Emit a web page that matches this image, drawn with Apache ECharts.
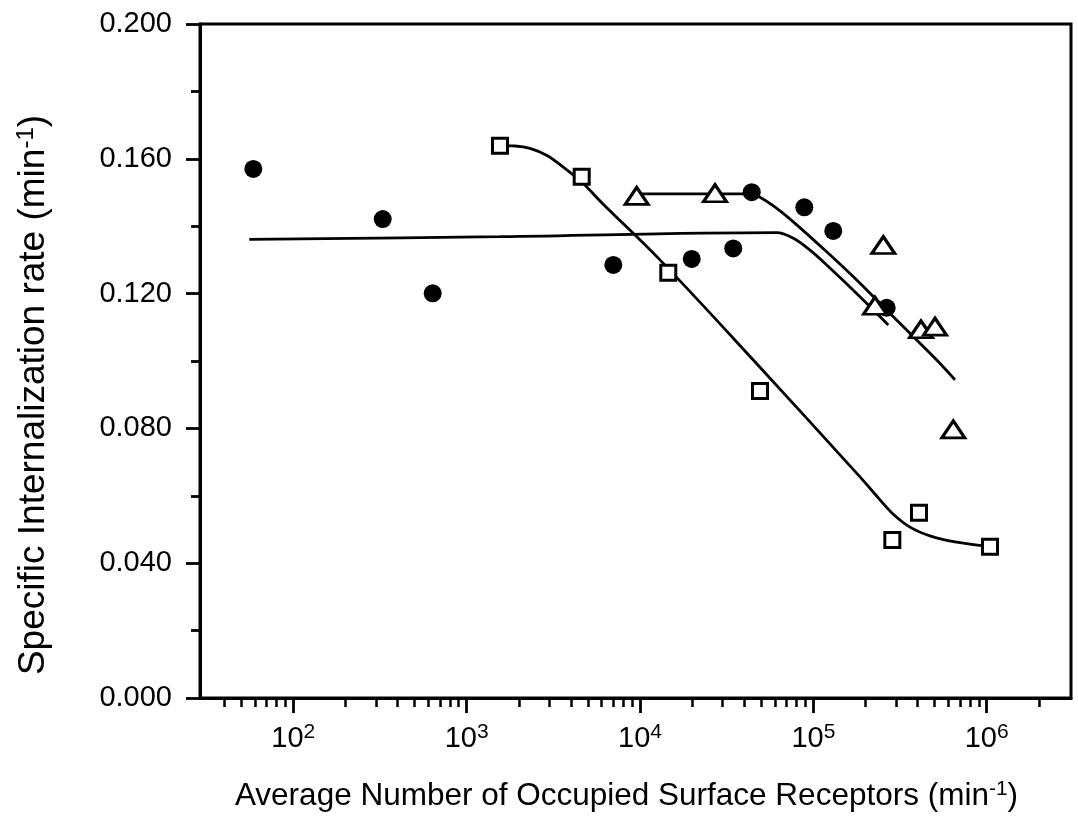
<!DOCTYPE html>
<html>
<head>
<meta charset="utf-8">
<script src="https://cdn.jsdelivr.net/npm/echarts@6/dist/echarts.min.js"></script>
<style>
html,body{margin:0;padding:0;background:#fff;}
#chart{width:1078px;height:819px;}
</style>
</head>
<body>
<div id="chart"></div>
<script>
// ---- data ----
const circlesX = [58.8, 328, 637, 7015, 19880, 34510, 44100, 88700, 130300, 265000];
const circlesY = [0.1570, 0.1421, 0.1201, 0.1285, 0.1303, 0.1334, 0.1501, 0.1456, 0.1386, 0.1158];

const squaresX = [1557, 4610, 14560, 49240, 285500, 406900, 1045000];
const squaresY = [0.1639, 0.1547, 0.1262, 0.0911, 0.0469, 0.0550, 0.0449];

const trianglesX = [9570, 27080, 253200, 226800, 417800, 503300, 641700];
const trianglesY = [0.1490, 0.1498, 0.1344, 0.1164, 0.1094, 0.1102, 0.0797];

// fitted curves
const fitCirclesX = [55.7, 1557, 61470, 76620, 95630, 119400, 185800, 270600];
const fitCirclesY = [0.1361, 0.1369, 0.1381, 0.1364, 0.1329, 0.1285, 0.1191, 0.1107];

const fitTrianglesX = [9570, 42930, 49220, 61470, 76620, 119400, 185800, 289300, 514800, 656500];
const fitTrianglesY = [0.1496, 0.1496, 0.1486, 0.1453, 0.1413, 0.1324, 0.1231, 0.1131, 0.1003, 0.0944];

const fitSquaresX = [1557, 1901, 2320, 2907, 3596, 4610, 6117, 13040, 45040, 185800, 242400, 288000, 361000, 470900, 656500, 1045000];
const fitSquaresY = [0.1639, 0.1638, 0.1631, 0.1610, 0.1576, 0.1531, 0.1466, 0.1300, 0.1003, 0.0656, 0.0588, 0.0546, 0.0507, 0.0481, 0.0463, 0.0449];

// axis ticks
const xMajorTicks = [100, 1000, 10000, 100000, 1000000];
const xMinorTicks = [40, 50, 60, 70, 80, 90,
  200, 300, 400, 500, 600, 700, 800, 900,
  2000, 3000, 4000, 5000, 6000, 7000, 8000, 9000,
  20000, 30000, 40000, 50000, 60000, 70000, 80000, 90000,
  200000, 300000, 400000, 500000, 600000, 700000, 800000, 900000,
  2000000];
const xMin = 28.96, xMax = 3064000;
const yMin = 0, yMax = 0.2, yStep = 0.04;

const xTitle = 'Average Number of Occupied Surface Receptors (min{sup|-1})';
const yTitle = 'Specific Internalization rate (min{sup|-1})';

function pairs(xs, ys) { return xs.map((x, i) => [x, ys[i]]); }

const FONT = "'Liberation Sans', Arial, Helvetica, sans-serif";
const chart = echarts.init(document.getElementById('chart'), null, {renderer: 'canvas'});

const lineStyle = {color: '#000', width: 2.8};

const option = {
  animation: false,
  backgroundColor: '#fff',
  grid: {left: 200, right: 7, top: 24, bottom: 121, show: true, borderColor: '#000', borderWidth: 3, backgroundColor: 'transparent'},
  xAxis: [
    {
      type: 'log', logBase: 10, min: xMin, max: xMax, position: 'bottom',
      axisLine: {show: true, lineStyle: {color: '#000', width: 3}},
      axisTick: {show: true, inside: false, length: 15, lineStyle: {color: '#000', width: 2.8}, customValues: xMajorTicks},
      axisLabel: {
        show: true, margin: 24, color: '#000', fontSize: 29, fontFamily: FONT,
        customValues: xMajorTicks,
        formatter: function (v) {
          const e = Math.round(Math.log10(v));
          return '10{sup|' + e + '}';
        },
        rich: {sup: {fontSize: 21, verticalAlign: 'top', padding: [0, 0, 13, 0], fontFamily: FONT, color: '#000'}}
      },
      splitLine: {show: false},
      name: xTitle, nameLocation: 'middle', nameGap: 81,
      nameTextStyle: {color: '#000', fontSize: 31.5, fontFamily: FONT, padding: [0, 18, 0, 0],
        rich: {sup: {fontSize: 21, verticalAlign: 'top', padding: [0, 0, 14, 0], fontFamily: FONT, color: '#000'}}}
    },
    {
      type: 'log', logBase: 10, min: xMin, max: xMax, position: 'bottom', offset: 0,
      axisLine: {show: false},
      axisTick: {show: true, inside: false, length: 9, lineStyle: {color: '#000', width: 2.5}, customValues: xMinorTicks},
      axisLabel: {show: false},
      splitLine: {show: false}
    }
  ],
  yAxis: {
    type: 'value', min: yMin, max: yMax, interval: yStep,
    axisLine: {show: true, lineStyle: {color: '#000', width: 3}},
    axisTick: {show: true, inside: false, length: 14, lineStyle: {color: '#000', width: 2.8}},
    minorTick: {show: true, splitNumber: 2, length: 9, lineStyle: {color: '#000', width: 2.8}},
    axisLabel: {margin: 28, color: '#000', fontSize: 29, fontFamily: FONT, formatter: v => v.toFixed(3)},
    splitLine: {show: false},
    name: yTitle, nameLocation: 'middle', nameGap: 146, nameRotate: 90,
    nameTextStyle: {color: '#000', fontSize: 37, fontFamily: FONT, padding: [0, 68, 0, 0],
      rich: {sup: {fontSize: 24, verticalAlign: 'top', padding: [0, 0, 16, 0], fontFamily: FONT, color: '#000'}}}
  },
  series: [
    {type: 'line', data: pairs(fitCirclesX, fitCirclesY), showSymbol: false, smooth: 0.35, lineStyle: lineStyle, z: 2},
    {type: 'line', data: pairs(fitTrianglesX, fitTrianglesY), showSymbol: false, smooth: 0.35, lineStyle: lineStyle, z: 2},
    {type: 'line', data: pairs(fitSquaresX, fitSquaresY), showSymbol: false, smooth: 0.35, lineStyle: lineStyle, z: 2},
    {type: 'scatter', data: pairs(circlesX, circlesY), symbol: 'circle', symbolSize: 18,
      itemStyle: {color: '#000', opacity: 1}, z: 5},
    {type: 'scatter', data: pairs(squaresX, squaresY), symbol: 'rect', symbolSize: 15,
      itemStyle: {color: '#fff', borderColor: '#000', borderWidth: 3, opacity: 1}, z: 5},
    {type: 'scatter', data: pairs(trianglesX, trianglesY), symbol: 'triangle', symbolSize: [23, 17],
      itemStyle: {color: '#fff', borderColor: '#000', borderWidth: 3, opacity: 1}, z: 5}
  ]
};
chart.setOption(option);
</script>
</body>
</html>
